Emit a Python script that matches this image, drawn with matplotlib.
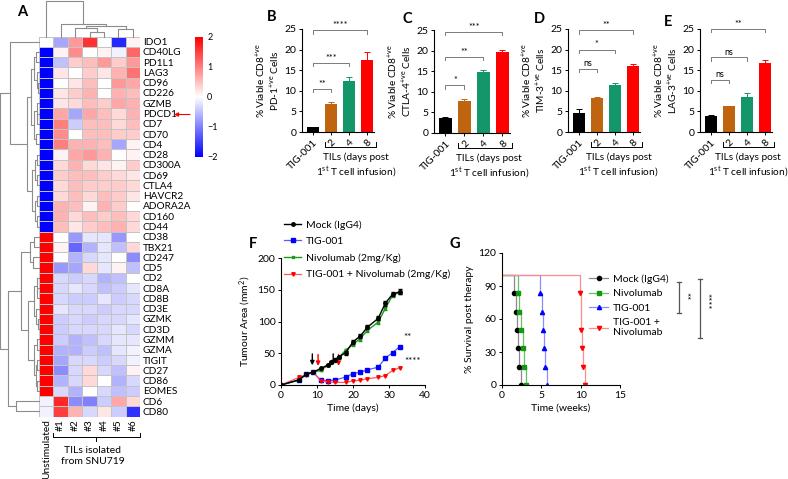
import numpy as np
import matplotlib
matplotlib.use("Agg")
import matplotlib.pyplot as plt
import matplotlib.transforms as mtransforms
from matplotlib.lines import Line2D

plt.rcParams['font.family'] = ['Lato', 'DejaVu Sans']
plt.rcParams['mathtext.default'] = 'regular'

W, H = 788, 479

# ---------------- panel A data ----------------
genes = ["IDO1", "CD40LG", "PD1L1", "LAG3", "CD96", "CD226", "GZMB", "PDCD1",
         "CD7", "CD70", "CD4", "CD28", "CD300A", "CD69", "CTLA4", "HAVCR2",
         "ADORA2A", "CD160", "CD44", "CD38", "TBX21", "CD247", "CD5", "CD2",
         "CD8A", "CD8B", "CD3E", "GZMK", "CD3D", "GZMM", "GZMA", "TIGIT",
         "CD27", "CD86", "EOMES", "CD6", "CD80"]
samples = ["Unstimulated", "#1", "#2", "#3", "#4", "#5", "#6"]
heat = [
    [0.0, -0.7, 0.8, 1.6, 0.0, -1.7, 0.1],
    [-2, 0.1, 0.9, 0.0, 0.1, -0.1, 1.2],
    [-2, -0.5, 0.4, 0.5, 0.8, 0.4, 0.8],
    [-2, 0.2, 0.0, 0.4, 0.2, 0.6, 1.1],
    [-2, 0.0, 0.2, 0.5, 0.0, 0.8, 0.7],
    [-2, 0.2, 0.4, 0.6, 0.0, 0.6, 0.5],
    [-2, 0.2, 0.3, 0.5, 0.4, 0.7, 0.6],
    [-2, 0.7, -0.7, 0.7, 0.5, 0.3, 0.6],
    [-2, 1.0, -0.4, 0.5, 0.5, 0.3, 0.5],
    [-2, 0.9, 0.0, 0.5, 0.5, 0.4, 0.4],
    [-2, 1.0, 0.6, 0.6, 0.5, -0.7, 0.1],
    [-2, 0.1, 0.7, 0.8, 0.6, 0.0, 0.1],
    [-2, 0.3, 0.6, 0.3, 0.2, 0.1, 0.4],
    [-2, 0.4, 0.5, 0.5, 0.4, 0.3, 0.2],
    [-2, 0.3, 0.5, 0.4, 0.4, 0.4, 0.3],
    [-2, 0.3, 0.5, 0.3, 0.5, 0.4, 0.2],
    [-2, 0.6, 0.5, 0.1, 0.6, 0.4, 0.0],
    [-2, 0.6, 0.3, 0.5, 0.4, 0.5, 0.3],
    [-2, 0.5, 0.2, 0.4, 0.5, 0.6, 0.3],
    [2, 0.0, -0.8, -0.2, -0.2, -0.8, 0.0],
    [2, 0.1, -1.2, -0.6, -0.2, -0.5, 0.3],
    [2, 0.0, -0.6, -0.3, -0.2, 0.0, -0.9],
    [2, -0.8, -0.7, 0.3, -0.2, 0.1, -0.5],
    [2, -0.3, -0.4, -0.3, -0.6, -0.5, 0.0],
    [2, -0.3, -0.2, -0.3, -0.5, -0.4, -0.2],
    [2, -0.3, -0.4, -0.4, -0.2, -0.4, -0.3],
    [2, -0.2, -0.3, -0.3, -0.4, -0.3, -0.3],
    [2, -0.4, -0.3, -0.4, -0.3, -0.3, -0.2],
    [2, -0.4, -0.3, -0.3, -0.3, -0.2, -0.3],
    [2, -0.4, -0.6, -0.5, -0.3, -0.2, -0.2],
    [2, -0.6, -0.6, -0.4, -0.5, -0.2, -0.1],
    [2, -0.7, -0.3, -0.3, -0.4, -0.3, -0.1],
    [2, -0.9, -0.3, 0.3, -0.3, -0.5, 0.1],
    [2, -0.6, -0.3, 0.3, 0.0, -0.6, -0.3],
    [2, -0.3, -0.6, 0.0, -0.3, -0.5, -0.4],
    [-0.1, 1.7, -0.9, -1.0, -0.4, 0.7, 0.3],
    [-0.1, 1.5, 0.6, -0.3, 0.2, -0.4, -1.6],
]
# dendrograms as (height, left, right), leaves are indices
col_tree = (1.0, 0, (0.34, 1, (0.29, (0.23, 2, (0.14, 3, 4)), (0.2, 5, 6))))
row_tree = (1.0,
            (0.74, 0, (0.31,
                       (0.2, (0.12, (0.07, 1, 2), (0.05, 3, (0.03, 4, 5))),
                        (0.14, (0.06, 6, (0.04, 7, 8)), (0.08, 9, 10))),
                       (0.18, (0.10, (0.05, 11, 12), (0.06, 13, 14)),
                        (0.09, (0.04, 15, 16), (0.05, 17, 18))))),
            (0.8, (0.45, (0.22, (0.12, 19, 20), (0.15, 21, 22)),
                   (0.28, (0.12, (0.06, 23, (0.04, 24, 25)), (0.07, 26, (0.03, 27, 28))),
                    (0.14, (0.06, 29, 30), (0.08, (0.05, 31, 32), (0.06, 33, 34))))),
             (0.58, 35, 36)))

# ---------------- panels B-E data ----------------
bar_labels = ["TIG-001", "2", "4", "8"]
bar_colors = ["#000000", "#c0650f", "#12966a", "#ff0000"]
pd1_vals = [1.2, 6.8, 12.4, 17.4]
pd1_err = [0.1, 0.6, 0.9, 2.0]
ctla4_vals = [3.7, 7.7, 14.8, 19.6]
ctla4_err = [0.1, 0.5, 0.4, 0.6]
tim3_vals = [4.7, 8.2, 11.4, 16.0]
tim3_err = [1.0, 0.4, 0.6, 0.6]
lag3_vals = [3.8, 6.2, 8.6, 16.8]
lag3_err = [0.4, 0.2, 0.8, 0.6]
pd1_sig = [(1, 10.4, "**"), (2, 16.7, "***"), (3, 24.7, "****")]
ctla4_sig = [(1, 11.6, "*"), (2, 18.4, "**"), (3, 24.5, "***")]
tim3_sig = [(1, 15.4, "ns"), (2, 20.0, "*"), (3, 24.7, "**")]
lag3_sig = [(1, 12.7, "ns"), (2, 18.1, "ns"), (3, 25.0, "**")]

# ---------------- panel F data ----------------
mock_days = [0, 5, 7, 9, 11, 13, 14, 15, 16, 18, 20, 22, 24, 27, 29, 31, 33]
mock_area = [0, 8, 17, 20.5, 26, 31.5, 36, 40, 44, 51, 68, 77, 91, 105, 129, 143, 147]
mock_err = [0, 1, 1, 1, 1, 1, 2, 2, 2, 3, 3, 3, 3, 3, 4, 3, 4]
nivo_days = [0, 5, 7, 9, 11, 13, 14, 15, 16, 18, 20, 22, 24, 27, 29, 31, 33]
nivo_area = [0, 8, 17, 20, 23, 31, 35, 39, 43, 55, 64, 73, 86, 99, 121, 141, 146]
nivo_err = [0, 1, 1, 1, 1, 1, 1, 2, 2, 2, 2, 3, 3, 3, 3, 3, 3]
tig_days = [0, 5, 7, 9, 11, 13, 15, 18, 20, 22, 24, 27, 29, 31, 33]
tig_area = [0, 8, 17, 20, 7.5, 6.8, 7.8, 12.5, 18, 20, 24, 28, 42.5, 51, 60.5]
combo_days = [0, 5, 7, 9, 11, 13, 15, 18, 20, 22, 24, 27, 29, 31, 33]
combo_area = [0, 12, 16, 20, 6.5, 5, 4.2, 4, 6.5, 7.4, 10, 12, 14.7, 23, 27]
tig_doses = [8.7, 14.5]
nivo_doses = [10.3, 16.0]

# ---------------- panel G data ----------------
levels6 = [83.3, 66.7, 50, 33.3, 16.7, 0]
levels5 = [83.3, 50, 33.3, 16.7, 0]
mock_wk = [1.53, 1.74, 1.86, 1.99, 2.16, 2.37]
nivo_wk = [1.99, 2.2, 2.37, 2.7, 2.8, 3.0]
tig_wk = [4.83, 5.12, 5.25, 5.38, 5.5, 5.67]
combo_wk = [9.91, 10.04, 10.16, 10.33, 10.5]


def box(l, t, r, b):
    return [l / W, 1 - b / H, (r - l) / W, (b - t) / H]


def ftext(x, y, s, **kw):
    fig.text(x / W, 1 - y / H, s, **kw)


def fline(xs, ys, **kw):
    fig.add_artist(Line2D([x / W for x in xs], [1 - y / H for y in ys],
                          transform=fig.transFigure, **kw))


def tree(ax, node, rows):
    if isinstance(node, int):
        return node + 0.5, 0.0
    h, a, b = node
    pa, ha = tree(ax, a, rows)
    pb, hb = tree(ax, b, rows)
    if rows:
        ax.plot([ha, h, h, hb], [pa, pa, pb, pb], color="#8c8c8c", lw=0.8, clip_on=False)
    else:
        ax.plot([pa, pa, pb, pb], [ha, h, h, hb], color="#8c8c8c", lw=0.8, clip_on=False)
    return (pa + pb) / 2, h


def style(ax):
    for s in ["top", "right"]:
        ax.spines[s].set_visible(False)
    for s in ["left", "bottom"]:
        ax.spines[s].set_linewidth(0.8)
    ax.tick_params(labelsize=7.5, length=2.5, width=0.7, pad=1.5)


fig = plt.figure(figsize=(W / 100, H / 100), dpi=100)

# ---------------- A ----------------
ax = fig.add_axes(box(39, 36.5, 140, 416.5))
mesh = ax.pcolormesh(np.array(heat), cmap="bwr", vmin=-2, vmax=2,
                     edgecolors="#c4c4c4", linewidth=0.4)
ax.set_xlim(0, 7)
ax.set_ylim(len(genes), 0)
ax.set_yticks(np.arange(len(genes)) + 0.5)
ax.set_yticklabels(genes, fontsize=7.3)
ax.yaxis.tick_right()
ax.set_xticks(np.arange(7) + 0.5)
ax.set_xticklabels(samples, rotation=90, fontsize=7.3)
ax.tick_params(length=0, pad=2)
for s in ax.spines.values():
    s.set_visible(False)

axr = fig.add_axes(box(0, 36.5, 39, 416.5))
tree(axr, row_tree, True)
axr.set_xlim(1.0, 0)
axr.set_ylim(len(genes), 0)
axr.axis("off")

axc = fig.add_axes(box(39, 0, 140, 36.5))
tree(axc, col_tree, False)
axc.set_xlim(0, 7)
axc.set_ylim(0, 1.03)
axc.axis("off")

cax = fig.add_axes(box(195, 37, 203, 157))
cb = fig.colorbar(mesh, cax=cax, ticks=[-2, -1, 0, 1, 2])
cb.outline.set_visible(False)
cax.tick_params(length=0, labelsize=6.5, pad=3)

fig.add_artist(plt.Annotation("", xy=(174 / W, 1 - 114.5 / H), xytext=(190 / W, 1 - 114.5 / H),
                              xycoords="figure fraction",
                              arrowprops=dict(arrowstyle="-|>", color="red", lw=0.8,
                                              mutation_scale=6, shrinkA=0, shrinkB=0)))
fline([53, 53, 140, 140], [433, 437, 437, 433], color="black", lw=0.7)
fline([96, 96], [437, 441], color="black", lw=0.7)
ftext(93, 446, "TILs isolated\nfrom SNU719", ha="center", va="top", fontsize=7.5, linespacing=1.35)

# ---------------- B-E ----------------
panels = [
    ((302, 29, 374, 132), pd1_vals, pd1_err, pd1_sig, "% Viable CD8$^{+ve}$\nPD-1$^{+ve}$ Cells", 2.4),
    ((434, 30, 510, 133), ctla4_vals, ctla4_err, ctla4_sig, "% Viable CD8$^{+ve}$\nCTLA-4$^{+ve}$ Cells", 2.3),
    ((568, 29, 640, 132), tim3_vals, tim3_err, tim3_sig, "% Viable CD8$^{+ve}$\nTIM-3$^{+ve}$ Cells", 2.2),
    ((700, 29, 772, 132), lag3_vals, lag3_err, lag3_sig, "% Viable CD8$^{+ve}$\nLAG-3$^{+ve}$ Cells", 2.05),
]
for bx, vals, errs, sigs, ylab, tx in panels:
    ax = fig.add_axes(box(*bx))
    x = np.arange(len(vals))
    for xi, v, e, c in zip(x, vals, errs, bar_colors):
        ax.bar(xi, v, width=0.68, color=c)
        ax.errorbar(xi, v, yerr=[[0], [e]], color=c, capsize=2, lw=0.7, capthick=0.7)
    for x1, y, lab in sigs:
        ax.plot([0, 0, x1, x1], [y - 0.8, y, y, y - 0.8], color="#7a7a7a", lw=0.7, clip_on=False)
        ax.text(x1 / 2, y + 0.1, lab, ha="center", va="bottom", fontsize=6.5)
    ax.set_xlim(-0.6, 3.4)
    ax.set_ylim(0, 25)
    ax.set_yticks([0, 5, 10, 15, 20, 25])
    ax.set_xticks(x)
    ax.set_xticklabels(bar_labels, rotation=45, ha="right", rotation_mode="anchor")
    style(ax)
    ax.set_ylabel(ylab, fontsize=7.3, labelpad=2, linespacing=1.1)
    tr = mtransforms.blended_transform_factory(ax.transData, ax.transAxes)
    ax.plot([0.65, 0.65, 3.5, 3.5], [-0.1, -0.145, -0.145, -0.1], color="black", lw=0.7,
            transform=tr, clip_on=False)
    ax.text(tx, -0.2, "TILs (days post\n1$^{st}$ T cell infusion)", transform=tr,
            ha="center", va="top", fontsize=7.3, linespacing=1.25)

# ---------------- F ----------------
ax = fig.add_axes(box(281, 258, 425, 385))
ax.errorbar(mock_days, mock_area, yerr=mock_err, color="black", marker="o", ms=2.5,
            lw=1, capsize=1.2, elinewidth=0.6, zorder=4)
ax.plot(tig_days, tig_area, color="#5a5aff", marker="s", ms=2.5, mfc="#0000ff",
        mec="#0000ff", lw=0.9, zorder=3)
ax.errorbar(nivo_days, nivo_area, yerr=nivo_err, color="#1a9a1a", marker="s", ms=2,
            lw=1, capsize=1.2, elinewidth=0.6, zorder=3)
ax.plot(combo_days, combo_area, color="#ff5a5a", marker="v", ms=2.5, mfc="#ff0000",
        mec="#ff0000", lw=0.9, zorder=3)
for d in tig_doses:
    ax.annotate("", xy=(d, 31), xytext=(d, 49),
                arrowprops=dict(arrowstyle="-|>", color="black", lw=1, mutation_scale=6,
                                shrinkA=0, shrinkB=0))
for d in nivo_doses:
    ax.annotate("", xy=(d, 30), xytext=(d, 48),
                arrowprops=dict(arrowstyle="-|>", color="red", lw=1, mutation_scale=6,
                                shrinkA=0, shrinkB=0))
ax.text(tig_days[-1] + 2, tig_area[-1] + 8, "**", ha="center", va="bottom", fontsize=7)
ax.text(combo_days[-1] + 3.5, combo_area[-1] + 3, "****", ha="center", va="bottom", fontsize=7)
ax.set_xlim(0, 40)
ax.set_ylim(0, 200)
ax.set_xticks([0, 10, 20, 30, 40])
ax.set_yticks([0, 50, 100, 150, 200])
style(ax)
ax.set_xlabel("Time (days)", fontsize=7.5, labelpad=3)
ax.set_ylabel("Tumour Area (mm$^2$)", fontsize=7.5, labelpad=3)
f_handles = [
    Line2D([], [], color="black", lw=1, marker="o", ms=2.5),
    Line2D([], [], color="#5a5aff", lw=0.9, marker="s", ms=2.5, mfc="#0000ff", mec="#0000ff"),
    Line2D([], [], color="#1a9a1a", lw=1, marker="s", ms=2),
    Line2D([], [], color="#ff5a5a", lw=0.9, marker="v", ms=2.5, mfc="#ff0000", mec="#ff0000"),
]
fig.legend(f_handles, ["Mock (IgG4)", "TIG-001", "Nivolumab (2mg/Kg)",
                       "TIG-001 + Nivolumab (2mg/Kg)"], loc="upper left",
           bbox_to_anchor=(279 / W, 1 - 215 / H), frameon=False, fontsize=7.5,
           handlelength=1.6, handletextpad=0.5, labelspacing=0.68, borderpad=0)

# ---------------- G ----------------
ax = fig.add_axes(box(502, 253, 620, 385))
series = [
    ("Mock (IgG4)", mock_wk, levels6, "#8a8a8a", "black", "o"),
    ("Nivolumab", nivo_wk, levels6, "#66c266", "#119911", "s"),
    ("TIG-001", tig_wk, levels6, "#8c8cff", "#0000ff", "^"),
    ("TIG-001 +\nNivolumab", combo_wk, levels5, "#ff8c8c", "#ff0000", "v"),
]
handles = []
for name, wk, lv, lc, mc, mk in series:
    ax.step([0] + wk, [100] + lv, where="post", color=lc, lw=0.9)
    ax.plot(wk, lv, ls="none", marker=mk, ms=3, color=mc)
    handles.append(Line2D([], [], color=lc, lw=0.9, marker=mk, ms=3, mfc=mc, mec=mc))
ax.set_xlim(0, 15)
ax.set_ylim(0, 120)
ax.set_xticks([0, 5, 10, 15])
ax.set_yticks([0, 30, 60, 90, 120])
style(ax)
ax.set_xlabel("Time (weeks)", fontsize=7.5, labelpad=3)
ax.set_ylabel("% Survival post therapy", fontsize=7.5, labelpad=3)
fig.legend(handles, [s[0] for s in series], loc="upper left",
           bbox_to_anchor=(584 / W, 1 - 269 / H), frameon=False, fontsize=7.5,
           handlelength=1.8, handletextpad=0.5, labelspacing=0.5, borderpad=0)
fline([679, 679], [282, 313], color="#555555", lw=0.9)
fline([677, 681], [282, 282], color="#555555", lw=0.9)
fline([677, 681], [313, 313], color="#555555", lw=0.9)
ftext(685, 296, "**", rotation=-90, ha="center", va="center", fontsize=7)
fline([700, 700], [279, 338], color="#555555", lw=0.9)
fline([698, 702], [279, 279], color="#555555", lw=0.9)
fline([698, 702], [338, 338], color="#555555", lw=0.9)
ftext(706, 301, "****", rotation=-90, ha="center", va="center", fontsize=7)

# panel letters
for lt, x, y in [("A", 22, 12), ("B", 272, 17), ("C", 407, 19), ("D", 539, 19),
                 ("E", 668, 22), ("F", 253, 244), ("G", 455, 244)]:
    ftext(x, y, lt, fontsize=10.5, fontweight="bold", ha="center", va="center")

fig.savefig("out.png", dpi=100)
